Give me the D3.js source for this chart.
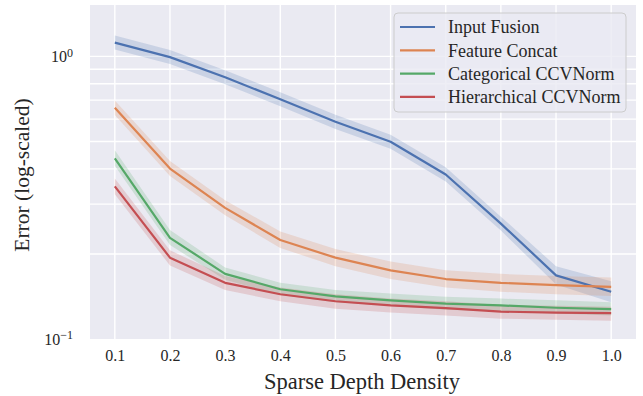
<!DOCTYPE html>
<html>
<head>
<meta charset="utf-8">
<script src="https://cdn.jsdelivr.net/npm/d3@7"></script>
<style>
  body { margin: 0; background: #fff; }
  svg text { font-family: "Liberation Serif", "DejaVu Serif", serif; fill: #262626; }
</style>
</head>
<body>
<svg id="chart" width="643" height="396"></svg>
<script>
// densities on the x axis
const densities = [0.1, 0.2, 0.3, 0.4, 0.5, 0.6, 0.7, 0.8, 0.9, 1.0];
const xTickLabels = ['0.1', '0.2', '0.3', '0.4', '0.5', '0.6', '0.7', '0.8', '0.9', '1.0'];

const seriesNames = ['Input Fusion', 'Feature Concat', 'Categorical CCVNorm', 'Hierarchical CCVNorm'];

// mean error per density
const inputFusion = [1.119, 0.994, 0.844, 0.705, 0.587, 0.499, 0.382, 0.256, 0.168, 0.147];
const featureConcat = [0.658, 0.401, 0.291, 0.224, 0.194, 0.175, 0.163, 0.158, 0.155, 0.153];
const categorical = [0.436, 0.228, 0.170, 0.150, 0.1415, 0.137, 0.1333, 0.1315, 0.129, 0.1275];
const hierarchical = [0.347, 0.194, 0.158, 0.144, 0.136, 0.1315, 0.1286, 0.125, 0.124, 0.1235];

// confidence band edges
const inputFusionLo = [1.057, 0.939, 0.797, 0.666, 0.554, 0.471, 0.361, 0.242, 0.156, 0.135];
const inputFusionHi = [1.185, 1.053, 0.894, 0.747, 0.622, 0.528, 0.405, 0.271, 0.181, 0.160];
const featureConcatLo = [0.620, 0.377, 0.274, 0.210, 0.181, 0.163, 0.152, 0.147, 0.144, 0.142];
const featureConcatHi = [0.698, 0.426, 0.310, 0.240, 0.208, 0.188, 0.175, 0.170, 0.167, 0.165];
const categoricalLo = [0.410, 0.215, 0.162, 0.143, 0.135, 0.131, 0.127, 0.125, 0.123, 0.121];
const categoricalHi = [0.465, 0.243, 0.179, 0.158, 0.149, 0.145, 0.141, 0.139, 0.137, 0.135];
const hierarchicalLo = [0.325, 0.182, 0.149, 0.136, 0.128, 0.124, 0.121, 0.118, 0.117, 0.116];
const hierarchicalHi = [0.370, 0.206, 0.167, 0.152, 0.144, 0.139, 0.136, 0.132, 0.131, 0.130];

const colors = ['#4c72b0', '#dd8452', '#55a868', '#c44e52'];

const series = [
  { name: seriesNames[0], mean: inputFusion, lo: inputFusionLo, hi: inputFusionHi, color: colors[0] },
  { name: seriesNames[1], mean: featureConcat, lo: featureConcatLo, hi: featureConcatHi, color: colors[1] },
  { name: seriesNames[2], mean: categorical, lo: categoricalLo, hi: categoricalHi, color: colors[2] },
  { name: seriesNames[3], mean: hierarchical, lo: hierarchicalLo, hi: hierarchicalHi, color: colors[3] },
];

const svg = d3.select('#chart');
const margin = { top: 5, right: 7, bottom: 57, left: 90 };
const width = 643 - margin.left - margin.right;
const height = 396 - margin.top - margin.bottom;

const chart = svg.append('g').attr('transform', `translate(${margin.left},${margin.top})`);

const xScale = d3.scaleLinear().domain([0.055, 1.045]).range([0, width]);
const yScale = d3.scaleLog().domain([0.1, 1.52]).range([height, 0]);

// background
chart.append('rect')
  .attr('width', width).attr('height', height)
  .attr('fill', '#eaeaf2');

// grid
const yGrid = [0.2, 0.3, 0.4, 0.5, 0.6, 0.7, 0.8, 0.9, 1.0];
chart.append('g').selectAll('line')
  .data(yGrid).enter().append('line')
  .attr('x1', 0).attr('x2', width)
  .attr('y1', d => yScale(d)).attr('y2', d => yScale(d))
  .attr('stroke', '#fff').attr('stroke-width', 1.4);

chart.append('g').selectAll('line')
  .data(densities).enter().append('line')
  .attr('y1', 0).attr('y2', height)
  .attr('x1', d => xScale(d)).attr('x2', d => xScale(d))
  .attr('stroke', '#fff').attr('stroke-width', 1.4);

// bands and lines
const area = d3.area()
  .x((d, i) => xScale(densities[i]))
  .y0(d => yScale(d[0]))
  .y1(d => yScale(d[1]));

const line = d3.line()
  .x((d, i) => xScale(densities[i]))
  .y(d => yScale(d));

series.forEach(s => {
  chart.append('path')
    .datum(s.lo.map((v, i) => [v, s.hi[i]]))
    .attr('d', area)
    .attr('fill', s.color)
    .attr('fill-opacity', 0.2);
});

series.forEach(s => {
  chart.append('path')
    .datum(s.mean)
    .attr('d', line)
    .attr('fill', 'none')
    .attr('stroke', s.color)
    .attr('stroke-width', 2.2)
    .attr('stroke-linejoin', 'round');
});

// x axis
const xAxis = d3.axisBottom(xScale)
  .tickValues(densities)
  .tickFormat((d, i) => xTickLabels[i])
  .tickSize(0)
  .tickPadding(11);

const xg = chart.append('g')
  .attr('transform', `translate(0,${height})`)
  .call(xAxis);
xg.select('.domain').remove();
xg.selectAll('text')
  .style('font-family', '"Liberation Serif", serif')
  .style('font-size', '16px')
  .attr('fill', '#262626');

// y axis (log, labels only at decades)
const yTicks = [{ v: 0.1, exp: '\u22121' }, { v: 1, exp: '0' }];
const yg = chart.append('g');
const yLabels = yg.selectAll('text')
  .data(yTicks).enter().append('text')
  .attr('x', -17)
  .attr('y', d => yScale(d.v))
  .attr('dy', '0.35em')
  .attr('text-anchor', 'end')
  .style('font-size', '16px');
yLabels.append('tspan').text('10');
yLabels.append('tspan')
  .attr('dy', '-0.45em')
  .style('font-size', '12px')
  .text(d => d.exp);

// axis titles
svg.append('text')
  .attr('x', margin.left + width / 2 - 1)
  .attr('y', 389)
  .attr('text-anchor', 'middle')
  .style('font-size', '22.5px')
  .text('Sparse Depth Density');

svg.append('text')
  .attr('transform', `translate(29,${175}) rotate(-90)`)
  .attr('text-anchor', 'middle')
  .style('font-size', '21.5px')
  .text('Error (log-scaled)');

// legend
const legend = svg.append('g').attr('transform', 'translate(394,13)');
legend.append('rect')
  .attr('width', 232).attr('height', 99)
  .attr('rx', 4)
  .attr('fill', '#eaeaf2').attr('fill-opacity', 0.8)
  .attr('stroke', '#cccccc').attr('stroke-width', 1);

const items = legend.selectAll('.item')
  .data(series).enter().append('g')
  .attr('class', 'item')
  .attr('transform', (d, i) => `translate(0,${14 + i * 23.3})`);
items.append('line')
  .attr('x1', 6).attr('x2', 41)
  .attr('stroke', d => d.color).attr('stroke-width', 2.2);
items.append('text')
  .attr('x', 54).attr('dy', '0.35em')
  .style('font-size', '18px')
  .text(d => d.name);
</script>
</body>
</html>
